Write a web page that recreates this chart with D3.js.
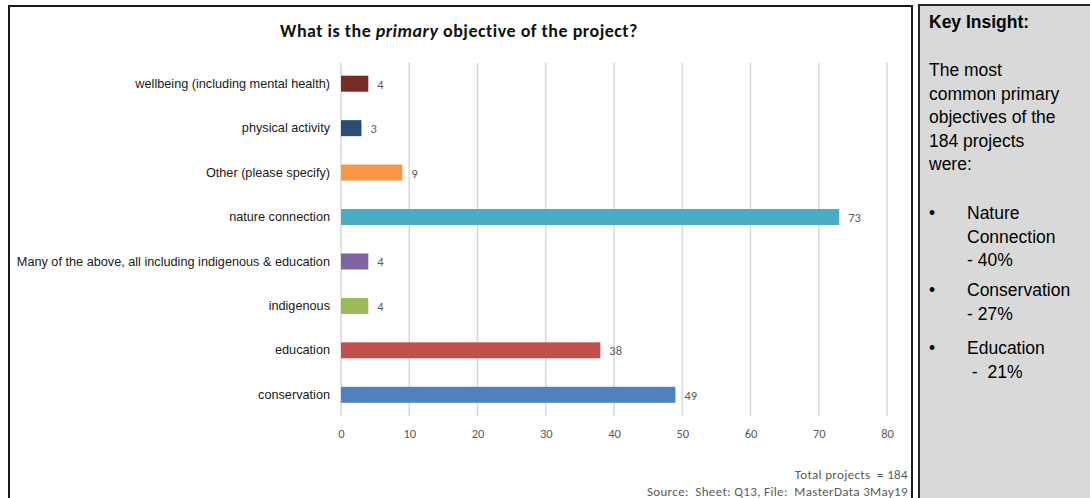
<!DOCTYPE html>
<html>
<head>
<meta charset="utf-8">
<script src="https://cdn.jsdelivr.net/npm/d3@7"></script>
<style>
  html, body { margin: 0; padding: 0; background: #fff; }
  svg { display: block; }
</style>
</head>
<body>
<svg id="chart" width="1090" height="498"></svg>
<script>
// Survey answers, top to bottom as shown
const categories = [
  "wellbeing (including mental health)",
  "physical activity",
  "Other (please specify)",
  "nature connection",
  "Many of the above, all including indigenous & education",
  "indigenous",
  "education",
  "conservation"
];
const counts = [4, 3, 9, 73, 4, 4, 38, 49];
const barColors = ["#772c2a", "#2c4d75", "#f79646", "#4bacc6", "#8064a2", "#9bbb59", "#c0504d", "#4f81bd"];
const xTicks = [0, 10, 20, 30, 40, 50, 60, 70, 80];
const footnotes = ["Total projects  = 184", "Source:  Sheet: Q13, File:  MasterData 3May19"];
const insightLines = ["The most", "common primary", "objectives of the", "184 projects", "were:"];
const insightBullets = [["Nature", "Connection", "- 40%"], ["Conservation", "- 27%"], ["Education", " -  21%"]];

const svg = d3.select("#chart");
const calibri = "Carlito, Lato, 'Open Sans', sans-serif";
const arial = "'Liberation Sans', Arial, sans-serif";

// Chart frame
svg.append("rect")
  .attr("x", 9).attr("y", 6).attr("width", 903).attr("height", 500)
  .attr("fill", "#fff").attr("stroke", "#1a1a1a").attr("stroke-width", 2);

// Insight panel
svg.append("rect")
  .attr("x", 919).attr("y", 5).attr("width", 180).attr("height", 500)
  .attr("fill", "#d9d9d9").attr("stroke", "#262626").attr("stroke-width", 2);

// Title
const title = svg.append("text")
  .attr("x", 459).attr("y", 37)
  .attr("text-anchor", "middle")
  .attr("font-family", calibri).attr("font-size", 18).attr("font-weight", "bold")
  .attr("letter-spacing", "0.5")
  .attr("fill", "#111");
title.append("tspan").text("What is the ");
title.append("tspan").attr("font-style", "italic").text("primary");
title.append("tspan").text(" objective of the project?");

// Scales
const x = d3.scaleLinear().domain([0, 80]).range([341, 887]);
const y = d3.scaleBand().domain(categories).range([61.5, 417]).paddingInner(0.64).paddingOuter(0.32);

// Vertical gridlines
svg.append("g").selectAll("line").data(xTicks).join("line")
  .attr("x1", d => x(d)).attr("x2", d => x(d))
  .attr("y1", 63).attr("y2", 416)
  .attr("stroke", "#d9d9d9").attr("stroke-width", 1.5);

// X axis labels
const xAxis = svg.append("g")
  .attr("transform", "translate(0,416)")
  .call(d3.axisBottom(x).tickValues(xTicks).tickSize(0).tickPadding(13));
xAxis.select(".domain").remove();
xAxis.selectAll("text")
  .attr("font-family", calibri).attr("font-size", 12.5).attr("fill", "#595959");

// Category labels
const yAxis = svg.append("g")
  .attr("transform", "translate(341,0)")
  .call(d3.axisLeft(y).tickSize(0).tickPadding(11));
yAxis.select(".domain").remove();
yAxis.selectAll("text")
  .attr("font-family", arial).attr("font-size", 12.7).attr("fill", "#1a1a1a");

// Bars
const rows = categories.map((c, i) => ({ c, v: counts[i], col: barColors[i] }));
svg.append("g").selectAll("rect").data(rows).join("rect")
  .attr("x", x(0)).attr("y", d => y(d.c))
  .attr("width", d => x(d.v) - x(0)).attr("height", y.bandwidth())
  .attr("fill", d => d.col);

// Value labels
svg.append("g").selectAll("text").data(rows).join("text")
  .attr("x", d => x(d.v) + 9).attr("y", d => y(d.c) + y.bandwidth() / 2 + 5)
  .attr("font-family", calibri).attr("font-size", 12.5).attr("fill", "#595959")
  .text(d => d.v);

// Footnotes
svg.append("g").selectAll("text").data(footnotes).join("text")
  .attr("x", 908).attr("y", (d, i) => 479 + i * 17)
  .attr("text-anchor", "end")
  .attr("font-family", calibri).attr("font-size", 13).attr("letter-spacing", "0.35")
  .attr("fill", "#595959")
  .style("white-space", "pre")
  .text(d => d);

// Insight text
const it = svg.append("g").attr("font-family", arial).attr("font-size", 17.5).attr("fill", "#000");
it.append("text").attr("x", 929).attr("y", 28).attr("font-weight", "bold").text("Key Insight:");
it.selectAll("text.line").data(insightLines).join("text").attr("class", "line")
  .attr("x", 929).attr("y", (d, i) => 76 + i * 23.6).text(d => d);

const bulletStarts = [219, 296, 354];
insightBullets.forEach((lines, b) => {
  it.append("text").attr("x", 929).attr("y", bulletStarts[b]).text("•");
  lines.forEach((ln, j) => {
    it.append("text").attr("x", 967).attr("y", bulletStarts[b] + j * 23.6)
      .style("white-space", "pre").text(ln);
  });
});
</script>
</body>
</html>
